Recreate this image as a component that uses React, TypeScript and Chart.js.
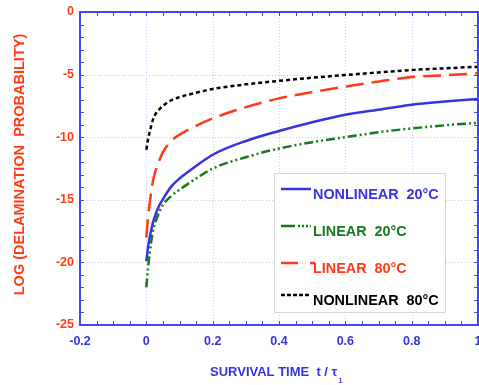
import React, { useEffect, useRef } from "react";
import { Chart, registerables } from "chart.js";

Chart.register(...registerables);

const timeValues = [0, 0.005, 0.01, 0.02, 0.03, 0.04, 0.05, 0.075, 0.1, 0.15, 0.2, 0.3, 0.4, 0.5, 0.6, 0.7, 0.8, 0.9, 1.0];
const nonlinear20 = [-19.9, -18.8, -18.0, -16.8, -16.0, -15.4, -14.95, -13.95, -13.3, -12.3, -11.4, -10.3, -9.5, -8.8, -8.2, -7.8, -7.4, -7.15, -6.95];
const linear20 = [-22.0, -20.5, -19.3, -17.5, -16.6, -15.9, -15.4, -14.7, -14.2, -13.3, -12.5, -11.6, -10.9, -10.4, -10.0, -9.6, -9.3, -9.05, -8.85];
const linear80 = [-18.0, -16.4, -15.3, -13.5, -12.5, -11.8, -11.2, -10.3, -9.8, -9.1, -8.5, -7.6, -6.9, -6.4, -5.96, -5.55, -5.2, -5.05, -4.9];
const nonlinear80 = [-11.0, -10.2, -9.6, -8.6, -8.05, -7.75, -7.5, -7.05, -6.8, -6.45, -6.15, -5.78, -5.5, -5.25, -5.03, -4.83, -4.63, -4.5, -4.37];

const seriesLabels = ["NONLINEAR  20°C", "LINEAR  20°C", "LINEAR  80°C", "NONLINEAR  80°C"];
const xTickValues = [-0.2, 0, 0.2, 0.4, 0.6, 0.8, 1];
const yTickValues = [0, -5, -10, -15, -20, -25];
const xTitle = "SURVIVAL TIME  t / τ";
const xTitleSub = "1";
const yTitle = "LOG (DELAMINATION  PROBABILITY)";

const BLUE = "#3434e0";
const AXIS_BLUE = "#4646ee";
const GREEN = "#16781f";
const RED = "#ff3a14";
const BLACK = "#000000";
const FONT = "'Liberation Sans', Arial, sans-serif";

const toPts = (ys: number[]) => ys.map((y, i) => ({ x: timeValues[i], y }));

const decorPlugin = {
  id: "decor",
  beforeDatasetsDraw(chart: any) {
    const { ctx, chartArea: a, scales } = chart;
    const xs = scales.x, ys = scales.y;
    ctx.save();
    ctx.strokeStyle = "#c4c4f4";
    ctx.lineWidth = 1;
    ctx.setLineDash([1, 2]);
    for (const v of xTickValues) {
      const px = Math.round(xs.getPixelForValue(v)) + 0.5;
      ctx.beginPath(); ctx.moveTo(px, a.top); ctx.lineTo(px, a.bottom); ctx.stroke();
    }
    for (const v of yTickValues) {
      const py = Math.round(ys.getPixelForValue(v)) + 0.5;
      ctx.beginPath(); ctx.moveTo(a.left, py); ctx.lineTo(a.right, py); ctx.stroke();
    }
    ctx.restore();
  },
  afterDraw(chart: any) {
    const { ctx, chartArea: a, scales } = chart;
    const xs = scales.x, ys = scales.y;
    ctx.save();
    ctx.strokeStyle = AXIS_BLUE;
    ctx.lineWidth = 1;
    for (let i = -4; i <= 20; i++) {
      const px = Math.round(xs.getPixelForValue(i * 0.05)) + 0.5;
      ctx.beginPath(); ctx.moveTo(px, a.bottom); ctx.lineTo(px, a.bottom - 4); ctx.stroke();
      ctx.beginPath(); ctx.moveTo(px, a.top); ctx.lineTo(px, a.top + 4); ctx.stroke();
    }
    for (let j = 0; j <= 25; j++) {
      const py = Math.round(ys.getPixelForValue(-j)) + 0.5;
      ctx.beginPath(); ctx.moveTo(a.left, py); ctx.lineTo(a.left + 4, py); ctx.stroke();
      ctx.beginPath(); ctx.moveTo(a.right, py); ctx.lineTo(a.right - 4, py); ctx.stroke();
    }
    ctx.lineWidth = 2;
    ctx.strokeRect(a.left, a.top, a.right - a.left, a.bottom - a.top);

    ctx.save();
    ctx.translate(20, (a.top + a.bottom) / 2 - 4);
    ctx.rotate(-Math.PI / 2);
    ctx.fillStyle = RED;
    ctx.font = `bold 14.5px ${FONT}`;
    ctx.textAlign = "center";
    ctx.textBaseline = "middle";
    ctx.fillText(yTitle, 0, 0);
    ctx.restore();

    ctx.fillStyle = BLUE;
    ctx.font = `bold 13px ${FONT}`;
    ctx.textAlign = "left";
    ctx.textBaseline = "middle";
    const tx = 210;
    ctx.fillText(xTitle, tx, 372);
    const w = ctx.measureText(xTitle).width;
    ctx.font = `bold 7px ${FONT}`;
    ctx.fillText(xTitleSub, tx + w + 1, 381);

    const lx = 274, ly = 173, lw = 171, lh = 139;
    ctx.fillStyle = "#ffffff";
    ctx.fillRect(lx, ly, lw, lh);
    ctx.strokeStyle = "#d6d6d6";
    ctx.lineWidth = 1;
    ctx.strokeRect(lx + 0.5, ly + 0.5, lw, lh);
    const rows = [194, 231, 268, 300];
    chart.data.datasets.forEach((ds: any, i: number) => {
      const y = rows[i];
      ctx.strokeStyle = ds.borderColor;
      ctx.lineWidth = 2.5;
      ctx.setLineDash(ds.legendDash || []);
      ctx.beginPath();
      ctx.moveTo(281, y - 5);
      ctx.lineTo(i === 2 ? 315 : 311, y - 5);
      ctx.stroke();
      ctx.setLineDash([]);
      ctx.fillStyle = ds.borderColor;
      ctx.font = `bold 14.4px ${FONT}`;
      ctx.textAlign = "left";
      ctx.textBaseline = "middle";
      ctx.fillText(ds.label, 313, y + 1);
    });
    ctx.restore();
  },
};

export default function App() {
  const ref = useRef<HTMLCanvasElement | null>(null);
  useEffect(() => {
    if (!ref.current) return;
    const common = { pointRadius: 0, borderWidth: 2.5, fill: false, cubicInterpolationMode: "monotone" as const };
    const chart = new Chart(ref.current, {
      type: "line",
      data: {
        datasets: [
          { ...common, label: seriesLabels[0], data: toPts(nonlinear20), borderColor: BLUE, borderDash: [], legendDash: [] } as any,
          { ...common, label: seriesLabels[1], data: toPts(linear20), borderColor: GREEN, borderDash: [9, 3, 2, 3, 2, 3], legendDash: [14, 3, 2, 2, 2, 2, 2, 2] } as any,
          { ...common, label: seriesLabels[2], data: toPts(linear80), borderColor: RED, borderDash: [18, 8], legendDash: [17, 12] } as any,
          { ...common, label: seriesLabels[3], data: toPts(nonlinear80), borderColor: BLACK, borderDash: [4, 3], legendDash: [4, 2] } as any,
        ],
      },
      options: {
        animation: false,
        responsive: false,
        devicePixelRatio: 1,
        layout: { padding: { top: 12, right: 1, left: 0, bottom: 0 } },
        plugins: { legend: { display: false }, tooltip: { enabled: false } },
        scales: {
          x: {
            type: "linear",
            min: -0.2,
            max: 1.0,
            afterBuildTicks: (s: any) => { s.ticks = xTickValues.map((v) => ({ value: v })); },
            afterFit: (s: any) => { s.height = 60; s.paddingRight = 0; s.paddingLeft = 0; },
            grid: { display: false, drawTicks: false },
            border: { display: false },
            ticks: {
              color: BLUE,
              padding: 9,
              maxRotation: 0,
              autoSkip: false,
              font: { family: FONT, size: 12.5, weight: "bold" },
              callback: (v: any) => String(Math.round(Number(v) * 10) / 10),
            },
          },
          y: {
            type: "linear",
            min: -25,
            max: 0,
            afterBuildTicks: (s: any) => { s.ticks = yTickValues.map((v) => ({ value: v })); },
            afterFit: (s: any) => { s.width = 80; s.paddingTop = 0; s.paddingBottom = 0; },
            grid: { display: false, drawTicks: false },
            border: { display: false },
            ticks: {
              color: RED,
              padding: 6,
              autoSkip: false,
              font: { family: FONT, size: 12.5, weight: "bold" },
              callback: (v: any) => String(v),
            },
          },
        },
      },
      plugins: [decorPlugin],
    });
    return () => chart.destroy();
  }, []);
  return (
    <div style={{ position: "fixed", left: 0, top: 0, width: 479, height: 385, background: "#fff" }}>
      <canvas ref={ref} width={479} height={385} style={{ display: "block" }} />
    </div>
  );
}
